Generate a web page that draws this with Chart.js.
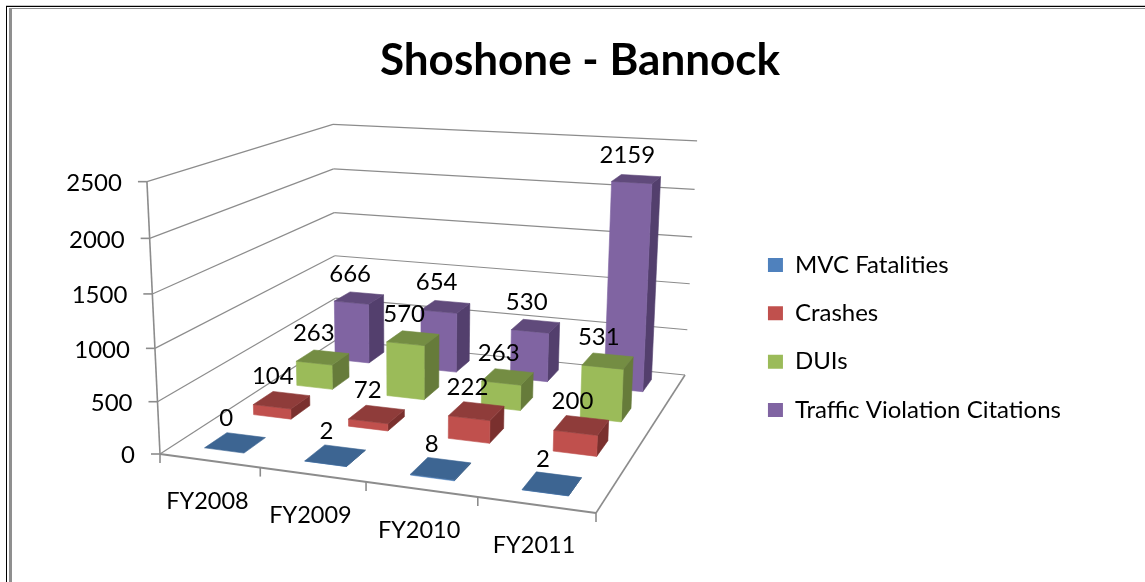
<!DOCTYPE html>
<html><head><meta charset="utf-8">
<style>html,body{margin:0;padding:0;background:#fff}canvas{display:block}</style>
<script src="https://cdn.jsdelivr.net/npm/chart.js@4"></script>
</head><body>
<canvas id="c" width="1145" height="582"></canvas>
<script>
const categories = ["FY2008","FY2009","FY2010","FY2011"];
const mvcFatalities = [0,2,8,2];
const crashes = [104,72,222,200];
const duis = [263,570,263,531];
const citations = [666,654,530,2159];
const seriesNames = ["MVC Fatalities","Crashes","DUIs","Traffic Violation Citations"];
const frontColors = ["#4F81BD","#C0504D","#9BBB59","#8064A2"];
const topColors = ["#3D6592","#8F3C3A","#748D43","#604A7B"];
const sideColors = ["#335578","#7A302E","#667B3A","#533F6D"];

const FONT = "Lato, Carlito, sans-serif";
const GRID = "#8c8c8c";
const DEPTH_RATIO = 0.44;

// Pose of the 3D box on the page: floor and wall corners
const floorA=[160,454], floorB=[596,513], floorC=[685,375], floorD=[336,340];
const topA=[147,182], topC=[697,142], topD=[333,123];

function makeProjection(){
  const [x0,y0]=floorA,[x1,y1]=floorB,[x2,y2]=floorC,[x3,y3]=floorD;
  const sx=x0-x1+x2-x3, sy=y0-y1+y2-y3, dx1=x1-x2, dx2=x3-x2, dy1=y1-y2, dy2=y3-y2;
  const den=dx1*dy2-dx2*dy1;
  const g=(sx*dy2-dx2*sy)/den, h=(dx1*sy-sx*dy1)/den;
  const a=x1-x0+g*x1, b=x3-x0+h*x3, c=x0, d=y1-y0+g*y1, e=y3-y0+h*y3, f=y0;
  const base=(u,v)=>[a*u+b*v+c, d*u+e*v+f, g*u+h*v+1];
  const rows=[];
  const add=(p,u,v)=>{const [X,Y,W]=base(u,v);
    rows.push([1,0,-p[0],p[0]*W-X]); rows.push([0,1,-p[1],p[1]*W-Y]);};
  add(topA,0,0); add(topC,1,1); add(topD,0,1);
  const N=[[0,0,0,0],[0,0,0,0],[0,0,0,0]];
  rows.forEach(r=>{for(let i=0;i<3;i++){for(let j=0;j<3;j++)N[i][j]+=r[i]*r[j];N[i][3]+=r[i]*r[3];}});
  for(let i=0;i<3;i++){let p=i;for(let k=i+1;k<3;k++)if(Math.abs(N[k][i])>Math.abs(N[p][i]))p=k;
    [N[i],N[p]]=[N[p],N[i]];
    for(let k=0;k<3;k++){if(k===i)continue;const m=N[k][i]/N[i][i];for(let j=i;j<4;j++)N[k][j]-=m*N[i][j];}}
  const cx=N[0][3]/N[0][0], cy=N[1][3]/N[1][1], cw=N[2][3]/N[2][2];
  return (u,v,t)=>{const [X,Y,W]=base(u,v);const w=W+cw*t;return [(X+cx*t)/w,(Y+cy*t)/w];};
}
const project=makeProjection();

function poly(ctx,pts,fill){
  ctx.beginPath();pts.forEach((p,i)=>i?ctx.lineTo(p[0],p[1]):ctx.moveTo(p[0],p[1]));ctx.closePath();
  ctx.fillStyle=fill;ctx.fill();ctx.strokeStyle=fill;ctx.lineWidth=0.6;ctx.stroke();
}
function seg(ctx,p,q,color,w){
  ctx.beginPath();ctx.moveTo(p[0],p[1]);ctx.lineTo(q[0],q[1]);ctx.strokeStyle=color;ctx.lineWidth=w||1.2;ctx.stroke();
}

const box3d={
  id:"box3d",
  beforeDraw(chart){
    const ctx=chart.ctx;ctx.save();
    ctx.fillStyle="#fff";ctx.fillRect(0,0,1145,582);
    ctx.fillStyle="#c4c4c4";ctx.fillRect(6,5,1139,1);
    ctx.fillStyle="#000";ctx.fillRect(6,6,1139,1);ctx.fillRect(6,6,1,576);
    ctx.fillStyle="#8f8f8f";ctx.fillRect(9,8,1136,1);ctx.fillRect(9,8,3,574);
    ctx.restore();
  },
  // the library's own bars are replaced by their projected boxes
  beforeDatasetDraw(){return false;},
  afterDatasetsDraw(chart){
    const ctx=chart.ctx,x=chart.scales.x,y=chart.scales.y,area=chart.chartArea;
    const n=categories.length,m=chart.data.datasets.length;
    const tOf=val=>(y.bottom-y.getPixelForValue(val))/y.height;
    ctx.save();
    ctx.lineJoin="round";
    // walls
    y.ticks.forEach(tk=>{
      const t=tOf(tk.value);
      if(t>0){seg(ctx,project(0,0,t),project(0,1,t),GRID);}
      seg(ctx,project(0,1,t),project(1,1,t),GRID);
    });
    // floor
    seg(ctx,project(0,0,0),project(0,1,0),GRID);
    seg(ctx,project(1,0,0),project(1,1,0),GRID,1.6);
    // boxes, far row first
    for(let d=m-1;d>=0;d--){
      const meta=chart.getDatasetMeta(d);
      const v=(d+.5)/m, dv=DEPTH_RATIO/m/2;
      meta.data.forEach((el,i)=>{
        const u=(el.x-area.left)/area.width, du=el.width/2/area.width;
        const t=tOf(chart.data.datasets[d].data[i]);
        const u0=u-du,u1=u+du,v0=v-dv,v1=v+dv;
        if(t>0.0005){
          poly(ctx,[project(u1,v0,0),project(u1,v1,0),project(u1,v1,t),project(u1,v0,t)],sideColors[d]);
          poly(ctx,[project(u0,v0,0),project(u1,v0,0),project(u1,v0,t),project(u0,v0,t)],frontColors[d]);
        }
        poly(ctx,[project(u0,v0,t),project(u1,v0,t),project(u1,v1,t),project(u0,v1,t)],topColors[d]);
      });
    }
    // axis lines and ticks
    seg(ctx,project(0,0,0),project(0,0,1),GRID,1.6);
    seg(ctx,project(0,0,0),project(1,0,0),GRID,2);
    ctx.fillStyle="#000";ctx.textBaseline="middle";
    y.ticks.forEach(tk=>{
      const p=project(0,0,tOf(tk.value));
      seg(ctx,[p[0]-9,p[1]],p,GRID,1.6);
      ctx.textAlign="right";ctx.font="24px "+FONT;ctx.fillStyle="#000";
      ctx.fillText(String(tk.value),p[0]-25,p[1]+1.5);
    });
    for(let i=0;i<=n;i++){
      const p=project(i/n,0,0);
      seg(ctx,p,[p[0],p[1]+9],GRID,1.6);
    }
    ctx.textAlign="center";ctx.font="23.5px "+FONT;ctx.fillStyle="#000";
    categories.forEach((c,i)=>{
      const u=(x.getPixelForValue(i)-area.left)/area.width;
      const p=project(u,0,0);
      ctx.fillText(c,p[0]-2,p[1]+41);
    });
    // value labels
    ctx.font="24px "+FONT;
    for(let d=m-1;d>=0;d--){
      const ds=chart.data.datasets[d];
      chart.getDatasetMeta(d).data.forEach((el,i)=>{
        const u=(el.x-area.left)/area.width;
        const p=project(u,(d+.5)/m,tOf(ds.data[i]));
        ctx.fillText(String(ds.data[i]),p[0]-9,p[1]-24);
      });
    }
    ctx.restore();
  }
};

const values=[mvcFatalities,crashes,duis,citations];
new Chart(document.getElementById("c"),{
  type:"bar",
  plugins:[box3d],
  data:{labels:categories,datasets:seriesNames.map((name,i)=>({
    label:name,data:values[i],backgroundColor:frontColors[i],
    grouped:false,categoryPercentage:0.4,barPercentage:1
  }))},
  options:{
    responsive:false,animation:false,
    layout:{padding:{left:89,right:74,top:0,bottom:-93}},
    scales:{
      x:{display:false},
      y:{display:false,min:0,max:2500,ticks:{stepSize:500}}
    },
    plugins:{
      tooltip:{enabled:false},
      title:{display:true,text:"Shoshone - Bannock",color:"#000",
        font:{family:FONT,size:44,weight:"bold"},padding:{top:34,bottom:16}},
      legend:{position:"right",align:"center",
        labels:{color:"#000",boxWidth:15,boxHeight:14,padding:24.3,font:{family:FONT,size:24}}}
    }
  }
});
</script>
</body></html>
